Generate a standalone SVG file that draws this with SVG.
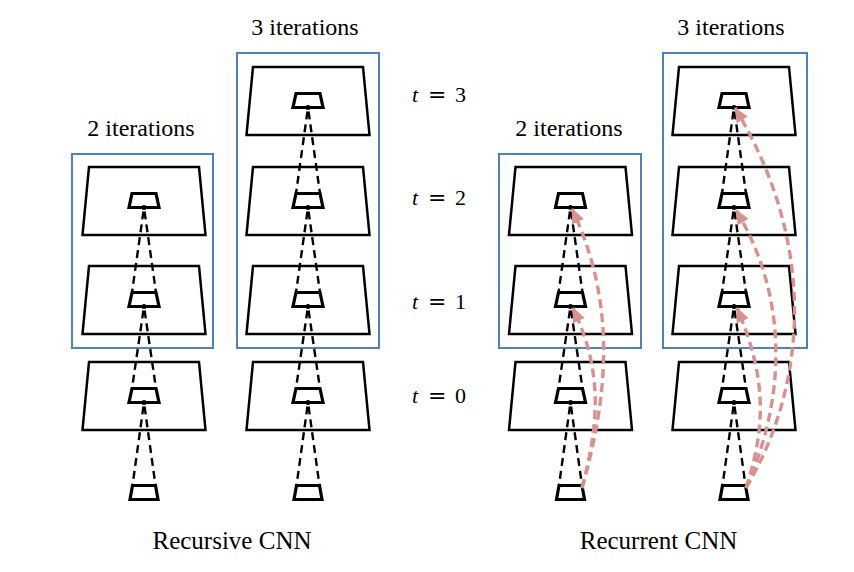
<svg xmlns="http://www.w3.org/2000/svg" xmlns:xlink="http://www.w3.org/1999/xlink" width="854" height="572" viewBox="0 0 854 572">
<style>
.box{fill:none;stroke:#4f81bd;stroke-width:2}
.layer{fill:#fff;stroke:#000;stroke-width:2.5;stroke-linejoin:miter}
.rf{fill:none;stroke:#000;stroke-width:3.2}
.dot{fill:#000}
.cone{stroke:#000;stroke-width:2.4;stroke-dasharray:8 5;stroke-dashoffset:-4;fill:none}
.rec{stroke:#d9908e;stroke-width:3.4;stroke-dasharray:9 5;fill:none;marker-end:url(#ah)}
.lbl{font-family:"Liberation Serif","Times New Roman",serif;font-size:24px;fill:#000;text-anchor:middle}
.cap{font-family:"Liberation Serif","Times New Roman",serif;font-size:25px;fill:#000;text-anchor:middle}
.t{font-family:"Liberation Serif","Times New Roman",serif;font-size:22px;fill:#000}
</style>
<defs>
<marker id="ah" markerWidth="15" markerHeight="13" refX="14" refY="6.5" orient="auto" markerUnits="userSpaceOnUse">
<path d="M0 0 L15 6.5 L0 13 Z" fill="#d9908e"/>
</marker>
<g id="lay">
<path class="layer" d="M-55 0 H55 L61.5 68 H-61.5 Z"/>
<path class="rf" d="M-12 26.5 H12 L15 40.5 H-15 Z"/>
<circle class="dot" cx="0" cy="40.5" r="2.5"/>
</g>
<path id="inp" class="rf" d="M-11.5 0 H11.5 L14 14 H-14 Z"/>
</defs>

<g id="boxes">
<rect id="box-rec2" class="box" x="72" y="154" width="141" height="194"/>
<rect id="box-rec3" class="box" x="237" y="53" width="142" height="295"/>
<rect id="box-rcn2" class="box" x="499" y="154" width="142" height="194"/>
<rect id="box-rcn3" class="box" x="663" y="53" width="144" height="295"/>
</g>

<g id="col1">
<use id="c1-t2" xlink:href="#lay" x="144" y="167"/>
<use id="c1-t1" xlink:href="#lay" x="144" y="266"/>
<use id="c1-t0" xlink:href="#lay" x="144" y="362"/>
<use id="c1-in" xlink:href="#inp" x="144" y="485.5"/>
</g>
<g id="col2">
<use id="c2-t3" xlink:href="#lay" x="308" y="67"/>
<use id="c2-t2" xlink:href="#lay" x="308" y="167"/>
<use id="c2-t1" xlink:href="#lay" x="308" y="266"/>
<use id="c2-t0" xlink:href="#lay" x="308" y="362"/>
<use id="c2-in" xlink:href="#inp" x="308" y="485.5"/>
</g>
<g id="col3">
<use id="c3-t2" xlink:href="#lay" x="570.5" y="167"/>
<use id="c3-t1" xlink:href="#lay" x="570.5" y="266"/>
<use id="c3-t0" xlink:href="#lay" x="570.5" y="362"/>
<use id="c3-in" xlink:href="#inp" x="570.5" y="485.5"/>
</g>
<g id="col4">
<use id="c4-t3" xlink:href="#lay" x="734" y="67"/>
<use id="c4-t2" xlink:href="#lay" x="734" y="167"/>
<use id="c4-t1" xlink:href="#lay" x="734" y="266"/>
<use id="c4-t0" xlink:href="#lay" x="734" y="362"/>
<use id="c4-in" xlink:href="#inp" x="734" y="485.5"/>
</g>

<g id="connectors">
<g id="cones">
<path class="cone" d="M144 207.5 L132 292.5 M144 207.5 L156 292.5 M144 306.5 L132 388.5 M144 306.5 L156 388.5 M144 402.5 L132.5 485.5 M144 402.5 L155.5 485.5"/>
<path class="cone" d="M308 107.5 L296 193.5 M308 107.5 L320 193.5 M308 207.5 L296 292.5 M308 207.5 L320 292.5 M308 306.5 L296 388.5 M308 306.5 L320 388.5 M308 402.5 L296.5 485.5 M308 402.5 L319.5 485.5"/>
<path class="cone" d="M570.5 207.5 L558.5 292.5 M570.5 207.5 L582.5 292.5 M570.5 306.5 L558.5 388.5 M570.5 306.5 L582.5 388.5 M570.5 402.5 L559 485.5 M570.5 402.5 L582 485.5"/>
<path class="cone" d="M734 107.5 L722 193.5 M734 107.5 L746 193.5 M734 207.5 L722 292.5 M734 207.5 L746 292.5 M734 306.5 L722 388.5 M734 306.5 L746 388.5 M734 402.5 L722.5 485.5 M734 402.5 L745.5 485.5"/>
</g>
<g id="recurrent">
<path class="rec" d="M582 488 C610 390 615 300 572 209"/>
<path class="rec" d="M582 488 C600 420 602 370 573 308"/>
<path class="rec" d="M746 488 C810 380 815 240 735 108"/>
<path class="rec" d="M746 488 C785 400 790 300 736 210"/>
<path class="rec" d="M746 488 C765 430 768 380 737 308"/>
</g>
</g>

<g id="labels">
<text class="lbl" x="141" y="136">2 iterations</text>
<text class="lbl" x="305" y="35">3 iterations</text>
<text class="lbl" x="569" y="136">2 iterations</text>
<text class="lbl" x="731" y="35">3 iterations</text>
<text class="t" y="102"><tspan x="412" font-style="italic">t</tspan><tspan x="428" font-family="DejaVu Serif, serif">=</tspan><tspan x="455">3</tspan></text>
<text class="t" y="205"><tspan x="412" font-style="italic">t</tspan><tspan x="428" font-family="DejaVu Serif, serif">=</tspan><tspan x="455">2</tspan></text>
<text class="t" y="309"><tspan x="412" font-style="italic">t</tspan><tspan x="428" font-family="DejaVu Serif, serif">=</tspan><tspan x="455">1</tspan></text>
<text class="t" y="403"><tspan x="412" font-style="italic">t</tspan><tspan x="428" font-family="DejaVu Serif, serif">=</tspan><tspan x="455">0</tspan></text>
<text class="cap" x="232" y="549">Recursive CNN</text>
<text class="cap" x="658.5" y="549">Recurrent CNN</text>
</g>
</svg>
